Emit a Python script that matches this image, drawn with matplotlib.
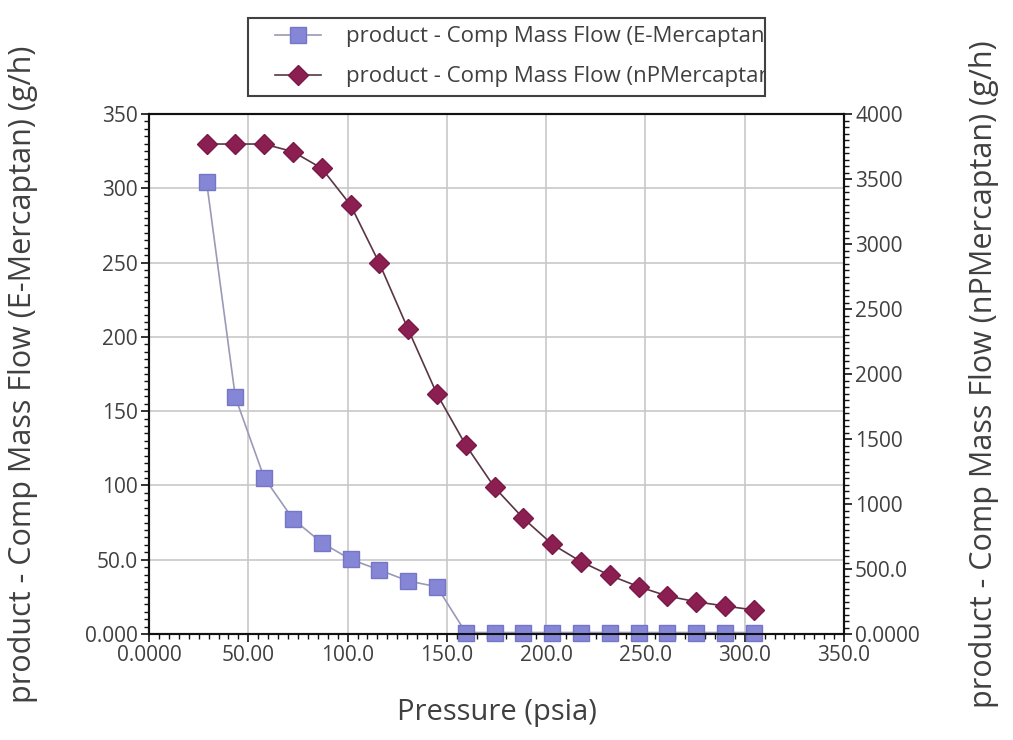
import numpy as np
import matplotlib
matplotlib.use("Agg")
import matplotlib.pyplot as plt
from matplotlib.ticker import MultipleLocator
from matplotlib.transforms import Bbox, TransformedBbox
from matplotlib.lines import Line2D
from matplotlib.legend_handler import HandlerLine2D

plt.rcParams['font.family'] = ['Open Sans', 'DejaVu Sans']

# case study: product stream mercaptan flows vs. pressure
pressure = [29.0, 43.5, 58.0, 72.5, 87.0, 101.5, 116.0, 130.5, 145.0, 159.5,
            174.0, 188.5, 203.1, 217.6, 232.1, 246.6, 261.1, 275.6, 290.1, 304.6]
e_merc = [304.4, 159.3, 105.2, 77.4, 61.4, 50.3, 43.1, 35.7, 31.8, 1.0,
          1.0, 1.0, 1.0, 1.0, 1.0, 1.0, 1.0, 1.0, 1.0, 1.0]
np_merc = [3769, 3769, 3769, 3710, 3582, 3300, 2852, 2344, 1846, 1454,
           1128, 890, 690, 556, 451, 364, 292, 248, 215, 185]

x_ticks = [0, 50, 100, 150, 200, 250, 300, 350]
x_labels = ["0.0000", "50.00", "100.0", "150.0", "200.0", "250.0", "300.0", "350.0"]
yl_ticks = [0, 50, 100, 150, 200, 250, 300, 350]
yl_labels = ["0.000", "50.0", "100", "150", "200", "250", "300", "350"]
yr_ticks = [0, 500, 1000, 1500, 2000, 2500, 3000, 3500, 4000]
yr_labels = ["0.0000", "500.0", "1000", "1500", "2000", "2500", "3000", "3500", "4000"]

txt = "#404040"
W, H = 1013, 740

fig = plt.figure(figsize=(W / 100, H / 100), dpi=100)
ax = fig.add_axes([149/W, 1 - 634/H, (844 - 149)/W, (634 - 114)/H])
ax2 = ax.twinx()

l1, = ax.plot(pressure, e_merc, color="#9a9ab8", lw=1.2, marker="s", ms=11.5,
              mfc="#8686d6", mec="#7676c8", mew=1, clip_on=False, zorder=3,
              label="product - Comp Mass Flow (E-Mercaptan)")
l2, = ax2.plot(pressure, np_merc, color="#5a3544", lw=1.2, marker="D", ms=10.5,
               mfc="#8c1f52", mec="#7a1846", mew=1, clip_on=False, zorder=3,
               label="product - Comp Mass Flow (nPMercaptan)")

ax.set_xlim(0, 350)
ax.set_ylim(0, 350)
ax2.set_ylim(0, 4000)

ax.set_xticks(x_ticks)
ax.set_xticklabels(x_labels)
ax.set_yticks(yl_ticks)
ax.set_yticklabels(yl_labels)
ax2.set_yticks(yr_ticks)
ax2.set_yticklabels(yr_labels)
ax.xaxis.set_minor_locator(MultipleLocator(5))
ax.yaxis.set_minor_locator(MultipleLocator(5))
ax2.yaxis.set_minor_locator(MultipleLocator(50))

ax.grid(True, which="major", color="#c8c8c8", lw=1.2)
ax.set_axisbelow(True)

for a in (ax, ax2):
    for s in a.spines.values():
        s.set_color("#111111")
        s.set_linewidth(1.5)
    a.tick_params(which="major", length=6, width=1.2, color="#111111",
                  labelsize=15, labelcolor=txt, pad=2)
    a.tick_params(which="minor", length=3.5, width=1, color="#111111")

ax.set_xlabel("Pressure (psia)", fontsize=21, color=txt)
ax.xaxis.set_label_coords(0.5, (634 - 698) / 520)
ax.set_ylabel("product - Comp Mass Flow (E-Mercaptan) (g/h)", fontsize=22, color=txt)
ax.yaxis.set_label_coords((38 - 149) / 695, 0.5)
ax2.set_ylabel("product - Comp Mass Flow (nPMercaptan) (g/h)", fontsize=22, color=txt)
ax2.yaxis.set_label_coords((969 - 149) / 695, 0.5)

# legend box has a fixed width; the long labels run past it and get cut
fs = 16
leg = fig.legend(handles=[l1, l2], loc="upper left", mode="expand",
                 bbox_to_anchor=(248/W, 1 - 100/H, (765 - 248)/W, 82/H), fontsize=fs,
                 frameon=True, fancybox=False, edgecolor="#111111",
                 handlelength=2.9, handletextpad=1.15, labelspacing=0.85,
                 borderpad=0.38, borderaxespad=0,
                 handler_map={Line2D: HandlerLine2D(xpad=0.85)})
leg.get_frame().set_linewidth(1.5)
clip = TransformedBbox(Bbox([[0, 0], [764/W, 1]]), fig.transFigure)
for t in leg.get_texts():
    t.set_color(txt)
    t.set_clip_box(clip)
    t.set_clip_on(True)

fig.savefig("out.png", dpi=100, facecolor="white")
